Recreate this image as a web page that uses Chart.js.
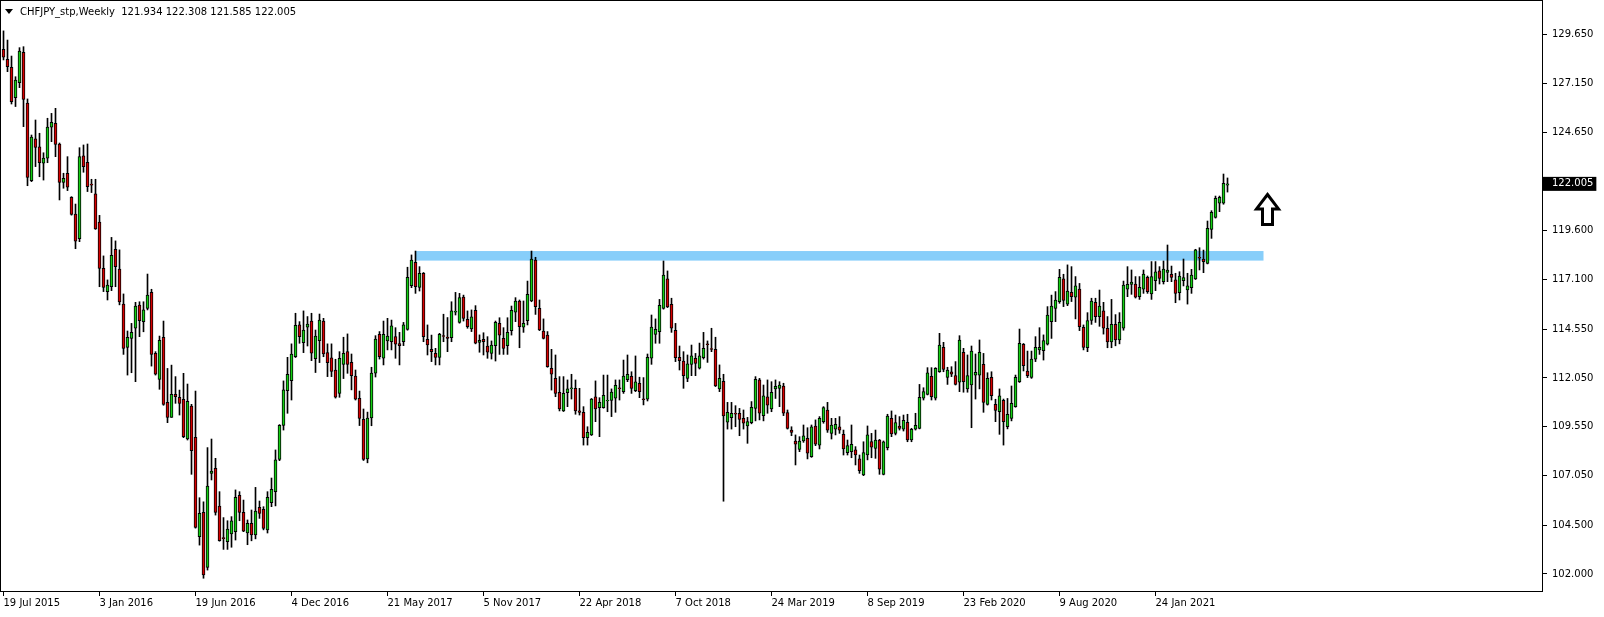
<!DOCTYPE html>
<html>
<head>
<meta charset="utf-8">
<script src="https://cdn.jsdelivr.net/npm/chart.js@4"></script>
<style>
  html, body { margin: 0; padding: 0; background: #fff; }
  canvas { display: block; }
</style>
</head>
<body>
<canvas id="myChart" width="1604" height="617"></canvas>
<script>
// CHFJPY weekly candles, 19 Jul 2015 .. Apr 2021
const symbol = 'CHFJPY_stp,Weekly';

const opens = [
  128.91, 128.39, 127.98, 126.43, 127.20, 128.75, 126.15, 122.17, 124.31, 123.90,
  123.06, 123.32, 124.91, 125.11, 124.05, 122.08, 122.55, 121.32, 120.46, 119.20,
  123.44, 123.11, 122.00, 121.49, 120.05, 117.67, 116.48, 116.73, 118.65, 117.64,
  115.84, 113.62, 114.08, 114.60, 115.79, 114.94, 115.62, 116.44, 113.31, 111.98,
  114.13, 110.80, 110.03, 111.21, 111.06, 110.95, 108.92, 110.61, 109.01, 103.91,
  105.16, 102.34, 107.16, 107.42, 105.48, 103.86, 103.66, 104.05, 104.17, 106.03,
  105.16, 104.10, 104.60, 104.00, 105.42, 105.31, 104.26, 105.66, 106.22, 107.88,
  109.62, 111.40, 111.91, 113.14, 114.77, 113.86, 114.65, 114.97, 113.04, 113.97,
  114.97, 113.35, 113.08, 112.46, 111.26, 112.75, 113.40, 112.85, 112.15, 111.01,
  109.93, 107.90, 110.00, 112.30, 114.29, 113.06, 113.95, 113.91, 114.17, 113.81,
  113.91, 114.54, 116.78, 117.98, 116.70, 117.42, 114.03, 113.52, 113.31, 113.11,
  114.22, 114.15, 114.12, 115.43, 114.90, 116.20, 115.06, 114.56, 115.52, 113.88,
  114.03, 113.69, 113.31, 113.71, 114.85, 114.08, 113.71, 114.48, 115.42, 116.00,
  114.65, 114.99, 116.00, 118.10, 115.62, 114.46, 114.25, 112.55, 112.03, 111.31,
  110.36, 111.30, 111.50, 111.52, 110.36, 110.29, 108.99, 109.13, 111.09, 110.53,
  110.53, 110.87, 110.90, 111.01, 111.54, 111.35, 111.96, 112.14, 111.40, 111.78,
  110.98, 110.97, 113.06, 114.29, 114.43, 115.62, 117.13, 115.83, 114.50, 113.11,
  112.92, 112.03, 112.75, 113.06, 112.55, 113.09, 113.80, 113.56, 113.52, 111.49,
  111.88, 109.78, 110.02, 110.24, 110.24, 109.98, 109.59, 109.76, 110.49, 111.95,
  110.12, 111.09, 110.46, 111.49, 111.52, 111.64, 110.27, 109.38, 108.82, 108.39,
  108.82, 108.96, 108.02, 109.59, 108.61, 109.81, 110.41, 109.21, 109.43, 109.55,
  109.16, 108.22, 108.27, 108.36, 107.90, 107.08, 108.10, 108.79, 108.44, 108.87,
  107.11, 108.48, 109.98, 109.21, 109.59, 109.42, 109.78, 108.87, 109.42, 109.47,
  111.01, 111.21, 112.14, 111.01, 112.37, 113.62, 112.08, 112.37, 112.17, 111.83,
  113.37, 111.49, 111.69, 112.20, 112.20, 112.75, 110.70, 112.08, 110.70, 110.32,
  110.90, 109.55, 109.98, 110.58, 111.86, 113.78, 112.41, 112.08, 113.01, 113.49,
  113.45, 113.79, 114.94, 115.62, 115.96, 117.13, 115.83, 116.44, 116.19, 116.61,
  114.65, 113.60, 115.00, 115.93, 115.20, 115.50, 114.60, 113.90, 114.80, 114.00,
  114.60, 116.61, 116.85, 116.87, 116.22, 116.60, 117.21, 116.36, 117.04, 117.55,
  116.99, 117.47, 117.37, 117.08, 116.43, 117.04, 116.56, 116.68, 117.13, 118.24,
  118.15, 117.93, 119.67, 120.29, 121.01, 121.01, 121.934
];

const highs = [
  129.85, 129.38, 128.56, 127.50, 128.99, 129.04, 126.36, 124.51, 125.28, 124.60,
  123.60, 125.37, 125.62, 125.88, 124.10, 122.55, 123.40, 121.35, 120.97, 123.86,
  124.00, 124.05, 122.24, 122.24, 120.39, 118.31, 117.08, 119.26, 119.08, 118.62,
  116.36, 114.46, 114.85, 115.93, 115.96, 115.96, 117.38, 116.60, 113.40, 114.20,
  114.97, 112.54, 112.71, 112.12, 111.43, 112.29, 111.74, 110.70, 111.38, 105.91,
  105.70, 108.48, 108.92, 107.93, 106.22, 104.89, 104.73, 104.94, 106.31, 106.22,
  105.79, 104.77, 105.28, 106.44, 105.74, 105.45, 106.22, 106.92, 108.36, 109.66,
  111.90, 113.11, 113.80, 115.37, 114.94, 115.49, 115.20, 115.37, 114.51, 115.33,
  115.11, 113.80, 113.80, 113.01, 113.40, 114.14, 114.31, 113.28, 112.46, 111.38,
  110.46, 110.30, 112.60, 114.22, 114.43, 114.97, 115.11, 115.02, 114.63, 114.39,
  114.90, 117.73, 118.36, 118.56, 117.76, 117.46, 114.77, 114.25, 113.57, 114.34,
  115.32, 115.15, 115.96, 116.44, 116.39, 116.30, 115.49, 115.54, 115.76, 114.26,
  114.37, 114.17, 113.95, 114.97, 115.14, 114.63, 115.14, 115.74, 116.17, 116.05,
  116.00, 117.02, 118.56, 118.24, 116.05, 115.08, 114.43, 113.52, 113.23, 112.12,
  112.12, 111.95, 112.24, 111.95, 111.52, 110.58, 109.55, 111.00, 111.90, 111.04,
  112.20, 112.20, 111.49, 111.95, 111.95, 112.97, 113.23, 112.37, 113.18, 112.09,
  112.07, 113.28, 115.28, 115.08, 116.08, 118.05, 117.54, 116.14, 114.85, 113.69,
  113.40, 113.23, 113.74, 113.31, 113.84, 114.39, 113.95, 114.60, 114.14, 112.72,
  112.24, 110.80, 110.80, 110.63, 110.49, 110.41, 110.03, 110.84, 112.12, 112.03,
  111.69, 111.95, 111.86, 111.95, 111.86, 111.78, 110.41, 109.55, 109.13, 109.04,
  109.64, 109.50, 109.64, 109.90, 110.07, 110.58, 110.80, 109.98, 109.98, 110.07,
  109.38, 108.87, 109.64, 108.53, 108.10, 108.78, 109.59, 109.21, 109.38, 108.90,
  108.82, 110.19, 110.36, 110.15, 110.07, 110.15, 110.19, 109.47, 110.24, 111.72,
  111.55, 112.58, 112.58, 112.58, 114.34, 113.88, 112.60, 112.63, 112.89, 114.22,
  113.57, 113.23, 113.69, 113.28, 114.00, 113.31, 112.32, 112.37, 110.96, 111.49,
  110.97, 111.00, 111.64, 112.20, 114.56, 113.82, 113.43, 113.43, 114.17, 114.63,
  114.26, 115.71, 116.30, 116.48, 117.62, 117.37, 117.85, 117.76, 117.25, 116.90,
  114.77, 115.40, 116.14, 116.14, 116.56, 115.93, 115.20, 116.08, 115.30, 115.40,
  117.02, 117.76, 117.59, 117.25, 117.25, 117.59, 117.28, 118.02, 118.02, 117.76,
  118.05, 118.87, 117.79, 117.42, 117.50, 118.15, 117.42, 117.62, 118.65, 118.73,
  118.61, 120.10, 120.63, 121.38, 121.38, 122.51, 122.308
];

const lows = [
  128.36, 127.76, 126.10, 125.97, 126.94, 124.94, 121.91, 122.12, 122.89, 122.37,
  122.20, 123.09, 124.17, 123.40, 121.18, 121.78, 121.66, 120.40, 118.68, 119.04,
  122.60, 121.61, 121.56, 119.67, 116.73, 116.48, 116.05, 116.53, 116.73, 115.80,
  113.26, 112.20, 112.32, 111.86, 114.17, 114.42, 115.54, 112.66, 112.20, 111.47,
  110.65, 109.76, 110.03, 110.75, 110.15, 108.99, 108.87, 107.11, 104.35, 103.48,
  101.78, 102.20, 106.82, 105.02, 103.68, 103.26, 103.26, 103.37, 103.74, 104.73,
  104.17, 103.50, 103.70, 103.80, 104.85, 104.26, 104.10, 105.45, 105.49, 107.81,
  109.38, 110.24, 110.92, 113.10, 113.83, 113.35, 113.69, 112.94, 112.33, 112.84,
  113.14, 112.12, 112.12, 111.02, 111.06, 112.02, 112.29, 111.44, 110.92, 109.61,
  107.82, 107.70, 109.60, 112.10, 113.02, 112.72, 113.49, 113.49, 113.06, 112.72,
  113.71, 114.50, 116.68, 116.39, 116.51, 113.91, 113.23, 112.89, 112.72, 112.72,
  113.91, 113.40, 113.91, 115.28, 114.86, 114.97, 114.60, 114.43, 113.80, 113.37,
  113.23, 113.06, 113.02, 112.92, 113.26, 113.26, 113.26, 114.25, 114.94, 113.60,
  114.39, 114.77, 115.96, 115.31, 114.48, 114.05, 112.60, 111.43, 111.09, 110.36,
  110.33, 110.58, 110.97, 110.19, 110.15, 108.61, 108.61, 109.10, 109.81, 109.04,
  110.50, 110.32, 110.07, 110.29, 110.92, 111.26, 111.86, 111.26, 111.35, 111.04,
  110.67, 110.87, 112.75, 113.83, 113.83, 115.58, 115.66, 114.39, 112.89, 112.46,
  111.52, 111.86, 112.17, 112.17, 112.51, 113.02, 112.85, 113.40, 111.61, 111.35,
  105.73, 109.43, 109.43, 109.55, 109.09, 109.43, 108.70, 109.70, 109.85, 109.90,
  109.85, 110.24, 110.32, 111.00, 110.58, 110.12, 109.43, 109.09, 107.59, 108.27,
  108.75, 107.90, 107.98, 108.58, 108.41, 109.73, 109.26, 108.92, 109.13, 109.21,
  108.10, 108.10, 107.96, 107.59, 107.16, 107.04, 107.85, 107.96, 107.93, 107.11,
  107.08, 108.36, 109.04, 109.13, 109.38, 109.33, 108.78, 108.78, 109.38, 109.44,
  110.92, 111.18, 110.92, 110.92, 112.34, 112.37, 111.72, 112.12, 111.69, 111.35,
  111.32, 111.32, 109.50, 110.97, 111.49, 110.29, 110.66, 110.92, 109.81, 109.16,
  108.61, 109.44, 109.85, 110.55, 111.82, 112.41, 112.07, 112.03, 112.89, 113.26,
  112.97, 113.74, 114.08, 114.94, 115.88, 115.71, 115.76, 115.97, 115.08, 114.48,
  113.49, 113.40, 114.80, 114.90, 114.70, 114.30, 113.60, 113.60, 113.70, 113.80,
  114.50, 116.22, 116.34, 116.15, 116.08, 116.39, 116.39, 116.08, 116.53, 116.87,
  116.87, 116.99, 116.99, 115.91, 116.05, 116.77, 115.84, 116.39, 117.10, 117.59,
  117.45, 117.90, 119.21, 120.25, 120.58, 120.96, 121.585
];

const closes = [
  128.50, 128.02, 126.22, 127.33, 128.82, 126.34, 122.34, 124.41, 123.88, 123.09,
  123.33, 124.92, 125.16, 124.03, 122.08, 122.29, 121.83, 120.44, 119.06, 123.40,
  122.89, 121.86, 121.94, 119.70, 117.67, 116.70, 116.82, 118.34, 117.76, 115.95,
  113.57, 114.13, 114.39, 115.74, 114.99, 115.54, 116.30, 113.26, 112.24, 113.98,
  110.70, 110.03, 111.21, 111.09, 110.75, 109.04, 110.85, 108.32, 104.39, 105.11,
  101.95, 106.51, 107.28, 105.16, 103.71, 103.81, 104.30, 104.72, 105.93, 105.16,
  104.20, 104.60, 104.00, 105.23, 105.11, 104.34, 105.93, 106.34, 107.85, 109.62,
  111.44, 112.24, 113.28, 114.75, 114.17, 114.51, 114.82, 113.32, 114.20, 115.02,
  113.28, 112.84, 112.39, 111.06, 113.06, 113.32, 112.75, 112.17, 110.96, 109.98,
  107.88, 110.00, 112.30, 114.05, 113.14, 114.29, 114.20, 114.72, 113.78, 113.71,
  114.77, 117.21, 118.10, 116.73, 117.42, 114.17, 113.74, 113.40, 113.11, 114.29,
  114.18, 114.08, 115.49, 115.47, 116.17, 115.11, 114.68, 115.19, 113.83, 113.98,
  113.91, 113.37, 113.74, 114.90, 114.25, 113.57, 114.39, 115.52, 116.00, 114.68,
  114.85, 116.34, 118.15, 115.71, 114.51, 114.08, 112.63, 112.24, 111.26, 110.46,
  111.26, 111.50, 111.54, 110.36, 110.29, 108.99, 109.26, 110.97, 110.46, 110.80,
  111.16, 110.91, 111.33, 111.67, 111.50, 112.15, 112.24, 111.52, 111.85, 111.35,
  110.94, 113.11, 114.66, 114.55, 115.78, 117.33, 115.69, 114.60, 113.09, 112.94,
  112.17, 112.77, 113.18, 112.80, 113.18, 113.57, 113.76, 113.52, 111.64, 112.03,
  110.10, 110.29, 110.24, 110.20, 109.93, 109.73, 109.81, 110.55, 111.98, 110.24,
  111.14, 110.66, 111.31, 111.62, 111.69, 110.24, 109.47, 109.26, 108.65, 108.82,
  109.08, 108.19, 109.55, 108.65, 109.98, 110.53, 109.38, 109.64, 109.67, 109.38,
  108.41, 108.58, 108.65, 108.10, 107.30, 108.22, 109.13, 108.50, 108.87, 107.38,
  108.78, 110.10, 109.18, 109.76, 109.47, 109.88, 108.87, 109.42, 109.62, 111.06,
  111.35, 112.32, 111.09, 112.55, 113.74, 112.49, 112.46, 112.24, 111.72, 114.00,
  111.86, 112.17, 113.43, 112.34, 113.37, 110.80, 112.03, 111.14, 110.39, 111.14,
  109.81, 110.19, 110.75, 112.08, 113.83, 112.68, 112.17, 113.02, 113.62, 113.62,
  113.97, 115.28, 115.74, 116.05, 117.21, 116.03, 116.51, 116.22, 116.77, 114.68,
  113.62, 115.00, 116.00, 115.20, 115.74, 114.60, 113.90, 114.80, 114.00, 114.90,
  116.82, 116.85, 116.97, 116.19, 116.70, 117.38, 116.48, 117.25, 117.50, 117.16,
  117.64, 117.59, 117.21, 116.39, 117.28, 117.20, 116.77, 117.33, 118.62, 118.20,
  118.02, 119.73, 120.55, 121.26, 121.31, 122.03, 122.005
];

// bottom axis: one label every 24 bars
const dateTicks = [0, 24, 48, 72, 96, 120, 144, 168, 192, 216, 240, 264, 288];
const dateLabels = [
  '19 Jul 2015', '3 Jan 2016', '19 Jun 2016', '4 Dec 2016', '21 May 2017',
  '5 Nov 2017', '22 Apr 2018', '7 Oct 2018', '24 Mar 2019', '8 Sep 2019',
  '23 Feb 2020', '9 Aug 2020', '24 Jan 2021'
];

// right axis labels
const priceTicks = [129.65, 127.15, 124.65, 122.005, 119.6, 117.1, 114.55, 112.05, 109.55, 107.05, 104.5, 102.0];
const lastPrice = closes[closes.length - 1];

// resistance zone (bar index from/to, price low/high) and the up arrow
const zoneBars = [103, 315];
const zonePrices = [118.07, 118.56];
const arrowBar = 316;
const arrowPrices = [119.92, 120.72, 121.46]; // stem bottom, head base, tip

const bodies = [];
const wicks = [];
const bodyColors = [];
for (let i = 0; i < opens.length; i++) {
    bodies.push({ x: i, y: [opens[i], closes[i]] });
    wicks.push({ x: i, y: [lows[i], highs[i]] });
    bodyColors.push(closes[i] >= opens[i] ? '#13cf13' : '#d60000');
}

Chart.defaults.font.family = '"DejaVu Sans", Verdana, sans-serif';
Chart.defaults.font.size = 10;
Chart.defaults.color = '#000';

const chartDecor = {
    id: 'chartDecor',
    beforeDatasetsDraw(chart) {
        const ctx = chart.ctx;
        const x = chart.scales.x, y = chart.scales.y;
        const x0 = x.getPixelForValue(zoneBars[0]);
        const x1 = x.getPixelForValue(zoneBars[1]);
        const y0 = y.getPixelForValue(zonePrices[1]);
        const y1 = y.getPixelForValue(zonePrices[0]);
        ctx.save();
        ctx.fillStyle = 'rgb(135,206,250)';
        ctx.fillRect(x0, y0, x1 - x0, y1 - y0);
        ctx.restore();
    },
    afterDatasetsDraw(chart) {
        const ctx = chart.ctx;
        const x = chart.scales.x, y = chart.scales.y;
        const cx = x.getPixelForValue(arrowBar);
        const yBot = y.getPixelForValue(arrowPrices[0]);
        const yBase = y.getPixelForValue(arrowPrices[1]);
        const yTip = y.getPixelForValue(arrowPrices[2]);
        ctx.save();
        ctx.beginPath();
        ctx.moveTo(cx, yTip);
        ctx.lineTo(cx + 11, yBase);
        ctx.lineTo(cx + 5, yBase);
        ctx.lineTo(cx + 5, yBot);
        ctx.lineTo(cx - 5, yBot);
        ctx.lineTo(cx - 5, yBase);
        ctx.lineTo(cx - 11, yBase);
        ctx.closePath();
        ctx.fillStyle = '#fff';
        ctx.fill();
        ctx.lineWidth = 3;
        ctx.lineJoin = 'miter';
        ctx.strokeStyle = '#000';
        ctx.stroke();
        ctx.restore();
    },
    afterDraw(chart) {
        const ctx = chart.ctx;
        const a = chart.chartArea;
        ctx.save();
        // frame around the plot
        ctx.strokeStyle = '#000';
        ctx.lineWidth = 1;
        ctx.strokeRect(a.left + 0.5, a.top + 0.5, a.right - a.left - 1, a.bottom - a.top - 1);
        // header line
        ctx.fillStyle = '#000';
        ctx.beginPath();
        ctx.moveTo(5, 9);
        ctx.lineTo(13, 9);
        ctx.lineTo(9, 14);
        ctx.closePath();
        ctx.fill();
        const n = opens.length - 1;
        const header = symbol + '  ' + [opens[n], highs[n], lows[n], closes[n]].map(v => v.toFixed(3)).join(' ');
        ctx.font = '10px "DejaVu Sans", Verdana, sans-serif';
        ctx.textBaseline = 'middle';
        ctx.fillText(header, 20, 12);
        ctx.restore();
    }
};

const config = {
    type: 'bar',
    data: {
        datasets: [{
            label: 'body',
            data: bodies,
            backgroundColor: bodyColors,
            borderColor: '#000',
            borderWidth: 1,
            borderSkipped: false,
            barThickness: 3,
            grouped: false,
            order: 0
        }, {
            label: 'wick',
            data: wicks,
            backgroundColor: '#000',
            borderWidth: 0,
            barThickness: 1,
            grouped: false,
            order: 1
        }]
    },
    options: {
        responsive: false,
        devicePixelRatio: 1,
        animation: false,
        layout: { padding: 0 },
        plugins: {
            legend: { display: false },
            tooltip: { enabled: false },
            title: { display: false }
        },
        scales: {
            x: {
                type: 'linear',
                min: -0.875,
                max: 384.875,
                offset: false,
                afterFit: function (scale) {
                    scale.height = 25;
                    scale.paddingLeft = 0;
                    scale.paddingRight = 0;
                },
                afterBuildTicks: function (scale) {
                    scale.ticks = dateTicks.map(v => ({ value: v }));
                },
                grid: { drawOnChartArea: false, offset: false, tickLength: 4, color: '#000' },
                border: { display: false },
                ticks: {
                    align: 'start',
                    maxRotation: 0,
                    autoSkip: false,
                    padding: 1,
                    color: '#000',
                    callback: function (value, index) { return dateLabels[index]; }
                }
            },
            y: {
                position: 'right',
                min: 101.075,
                max: 131.434,
                afterFit: function (scale) {
                    scale.width = 61;
                    scale.paddingTop = 0;
                    scale.paddingBottom = 0;
                },
                afterBuildTicks: function (scale) {
                    scale.ticks = priceTicks.map(v => ({ value: v }));
                },
                grid: {
                    drawOnChartArea: false,
                    tickLength: 4,
                    tickColor: function (ctx) {
                        return ctx.tick && ctx.tick.value === lastPrice ? 'rgba(0,0,0,0)' : '#000';
                    }
                },
                border: { display: false },
                ticks: {
                    padding: 5,
                    color: function (ctx) {
                        return ctx.tick && ctx.tick.value === lastPrice ? '#fff' : '#000';
                    },
                    showLabelBackdrop: function (ctx) {
                        return !!(ctx.tick && ctx.tick.value === lastPrice);
                    },
                    backdropColor: '#000',
                    backdropPadding: { left: 9, right: 3, top: 1, bottom: 1 },
                    callback: function (value) { return Number(value).toFixed(3); }
                }
            }
        }
    },
    plugins: [chartDecor]
};

const myChart = new Chart(document.getElementById('myChart'), config);
</script>
</body>
</html>
